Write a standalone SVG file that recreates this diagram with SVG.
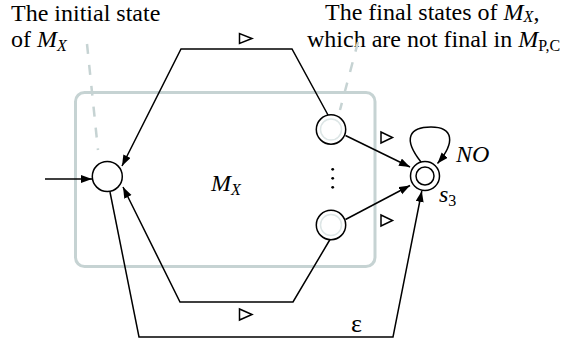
<svg xmlns="http://www.w3.org/2000/svg" width="571" height="344" viewBox="0 0 571 344">
<defs>
<marker id="arr" markerUnits="userSpaceOnUse" markerWidth="12" markerHeight="10" refX="11" refY="4" orient="auto">
<path d="M0,0 L11,4 L0,8 z" fill="#000"/>
</marker>
</defs>
<style>
text{font-family:"Liberation Serif","Times New Roman",serif;font-size:24px;fill:#000}
.it{font-style:italic}
.sub{font-size:16px}
.st{fill:#fff;stroke:#000;stroke-width:1.5}
.inner{fill:none;stroke:#dde6e6;stroke-width:1.5}
.ln{fill:none;stroke:#000;stroke-width:1.5}
.tri{fill:#fff;stroke:#000;stroke-width:1.5;stroke-linejoin:miter}
.dash{fill:none;stroke:#c6d3d3;stroke-width:2.5;stroke-dasharray:10 11}
</style>
<g id="box">
<rect x="75.5" y="92.5" width="299.5" height="174" rx="9" fill="none" stroke="#c6d3d3" stroke-width="3"/>
<text x="211" y="191"><tspan class="it">M</tspan><tspan class="it sub" dy="4">X</tspan></text>
</g>
<g id="labels">
<text x="11" y="21">The initial state</text>
<text x="11" y="47">of <tspan class="it">M</tspan><tspan class="it sub" dy="4">X</tspan></text>
<text x="325" y="20">The final states of <tspan class="it">M</tspan><tspan class="it sub" dy="2">X</tspan><tspan dy="-2">,</tspan></text>
<text x="307" y="47">which are not final in <tspan class="it">M</tspan><tspan class="sub" dy="4">P,C</tspan></text>
<path class="dash" d="M87,44 L98,150"/>
<path class="dash" d="M358,42 L340,110"/>
</g>
<g id="connectors">
<path class="ln" d="M45,179 L92,179" marker-end="url(#arr)"/>
<path class="ln" d="M328,115 L292,49 L181,49 L122,166" marker-end="url(#arr)"/>
<path class="ln" d="M330,239.5 L293,302 L180,302 L123,187" marker-end="url(#arr)"/>
<path class="ln" d="M110,192 L139,337 L393,337 L421.8,191" marker-end="url(#arr)"/>
<path class="ln" d="M345.5,135.5 L410,167" marker-end="url(#arr)"/>
<path class="ln" d="M345.5,219.5 L410,185.5" marker-end="url(#arr)"/>
<path class="ln" d="M421,162 C402,138 410,127 431,127 C453,127 456,142 437.5,163.5" marker-end="url(#arr)"/>
<polygon class="tri" points="239.5,33.5 239.5,43.5 252,38.5"/>
<polygon class="tri" points="239.5,309 239.5,320 252,314.5"/>
<polygon class="tri" points="381,132 381,143 392.5,137.5"/>
<polygon class="tri" points="381,215 381,226 392.5,220.5"/>
<text x="351" y="332" style="font-size:26px">ε</text>
<text x="456" y="162" class="it">NO</text>
</g>
<g id="q0">
<circle class="st" cx="107.3" cy="176.5" r="15"/>
</g>
<g id="f1">
<circle class="st" cx="331" cy="129.5" r="14.7"/>
<circle class="inner" cx="331" cy="129.5" r="10.5"/>
</g>
<g id="dots">
<circle cx="332.7" cy="169.3" r="1.4"/>
<circle cx="332.7" cy="178.3" r="1.4"/>
<circle cx="332.7" cy="187.3" r="1.4"/>
</g>
<g id="f2">
<circle class="st" cx="331" cy="225" r="14.7"/>
<circle class="inner" cx="331" cy="225" r="10.5"/>
</g>
<g id="s3">
<circle class="st" cx="425" cy="176" r="14.5"/>
<circle class="st" cx="425" cy="176" r="9"/>
<text x="439" y="202"><tspan class="it">s</tspan><tspan class="sub" dy="4">3</tspan></text>
</g>
</svg>
